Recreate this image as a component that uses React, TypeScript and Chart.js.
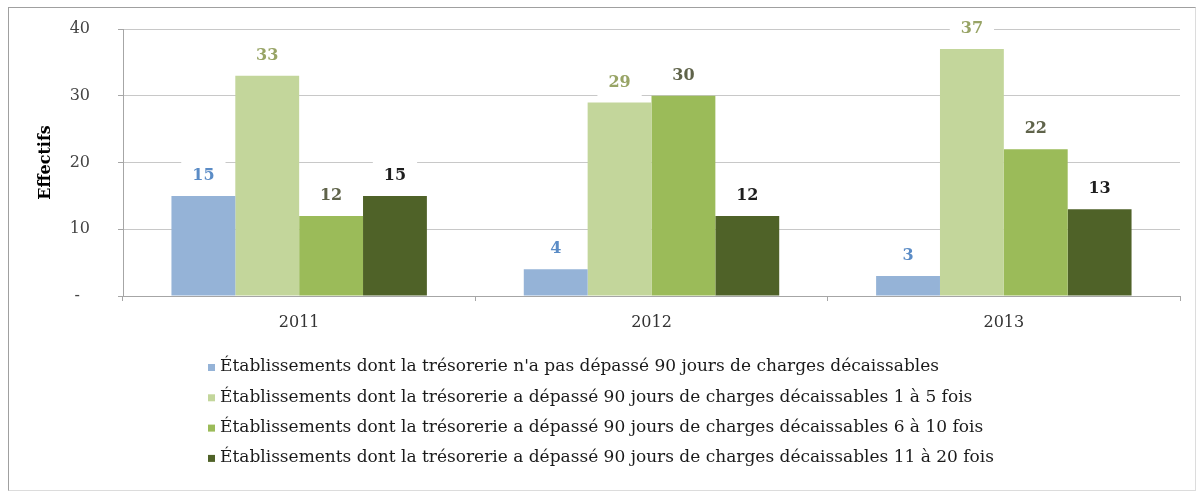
import React, { useEffect, useRef } from "react";
import { Chart, registerables } from "chart.js";

Chart.register(...registerables);

const categories = ["2011", "2012", "2013"];

const seriesLabels = [
  "Établissements dont la trésorerie n'a pas dépassé 90 jours de charges décaissables",
  "Établissements dont la trésorerie a dépassé 90 jours de charges décaissables 1 à 5 fois",
  "Établissements dont la trésorerie a dépassé 90 jours de charges décaissables 6 à 10 fois",
  "Établissements dont la trésorerie a dépassé 90 jours de charges décaissables 11 à 20 fois",
];

const notExceeded = [15, 4, 3];
const exceeded1to5 = [33, 29, 37];
const exceeded6to10 = [12, 30, 22];
const exceeded11to20 = [15, 12, 13];

const seriesValues = [notExceeded, exceeded1to5, exceeded6to10, exceeded11to20];
const barColors = ["#95B3D7", "#C3D69B", "#9BBB59", "#4F6228"];
const labelColors = ["#5B8CC6", "#98A466", "#5F634A", "#1E1E1E"];

const yMin = 0;
const yMax = 40;
const yStep = 10;
const yTickLabels: Record<number, string> = { 0: "-  ", 10: "10", 20: "20", 30: "30", 40: "40" };

const FONT = '"DejaVu Serif", "Liberation Serif", serif';

const valueLabelPlugin = {
  id: "valueLabels",
  beforeDatasetsDraw(chart: any) {
    const ctx = chart.ctx;
    ctx.save();
    ctx.font = `bold 16px ${FONT}`;
    chart.data.datasets.forEach((ds: any, i: number) => {
      const meta = chart.getDatasetMeta(i);
      meta.data.forEach((bar: any, j: number) => {
        const text = String(ds.data[j]);
        const w = ctx.measureText(text).width;
        const cy = bar.y - 20;
        ctx.fillStyle = "#ffffff";
        ctx.fillRect(bar.x - w / 2 - 11, cy - 15, w + 22, 30);
      });
    });
    ctx.restore();
  },
  afterDatasetsDraw(chart: any) {
    const ctx = chart.ctx;
    ctx.save();
    ctx.font = `bold 16px ${FONT}`;
    ctx.textAlign = "center";
    ctx.textBaseline = "middle";
    chart.data.datasets.forEach((ds: any, i: number) => {
      const meta = chart.getDatasetMeta(i);
      meta.data.forEach((bar: any, j: number) => {
        ctx.fillStyle = labelColors[i];
        ctx.fillText(String(ds.data[j]), bar.x, bar.y - 20);
      });
    });
    ctx.restore();
  },
};

const listLegendPlugin = {
  id: "listLegend",
  afterDraw(chart: any) {
    const ctx = chart.ctx;
    ctx.save();
    ctx.font = `17px ${FONT}`;
    ctx.textBaseline = "middle";
    ctx.textAlign = "left";
    const boxX = 208;
    const textX = 220;
    const firstY = 367;
    const gap = 30.3;
    chart.data.datasets.forEach((ds: any, i: number) => {
      const y = firstY + i * gap;
      ctx.fillStyle = ds.backgroundColor;
      ctx.fillRect(boxX, y - 3, 7, 7);
      ctx.fillStyle = "#1a1a1a";
      ctx.fillText(ds.label, textX, y);
    });
    ctx.restore();
  },
};

export default function App() {
  const canvasRef = useRef<HTMLCanvasElement | null>(null);

  useEffect(() => {
    if (!canvasRef.current) return;
    const chart = new Chart(canvasRef.current, {
      type: "bar",
      data: {
        labels: categories,
        datasets: seriesValues.map((vals, i) => ({
          label: seriesLabels[i],
          data: vals,
          backgroundColor: barColors[i],
          borderWidth: 0,
          categoryPercentage: 0.725,
          barPercentage: 1,
        })),
      },
      options: {
        animation: false,
        responsive: false,
        maintainAspectRatio: false,
        layout: { padding: { left: 30, top: 29, right: 17, bottom: 150 } },
        plugins: {
          legend: { display: false },
          tooltip: { enabled: false },
        },
        scales: {
          x: {
            grid: {
              display: true,
              drawOnChartArea: false,
              drawTicks: true,
              tickLength: 5,
              color: "#A6A6A6",
              offset: true,
            },
            border: { color: "#A6A6A6" },
            ticks: { font: { family: FONT, size: 16 }, color: "#333333", padding: 12 },
            afterFit: (s: any) => {
              s.height = 48;
              s.paddingLeft = 0;
              s.paddingRight = 0;
            },
          },
          y: {
            min: yMin,
            max: yMax,
            ticks: {
              stepSize: yStep,
              padding: 28,
              font: { family: FONT, size: 16 },
              color: "#444444",
              callback: (v: any) => yTickLabels[Number(v)] ?? String(v),
            },
            grid: {
              color: (c: any) => (c.tick && c.tick.value === 0 ? "#A6A6A6" : "#C8C8C8"),
              tickLength: 5,
              tickColor: "#A6A6A6",
            },
            border: { color: "#A6A6A6" },
            title: {
              display: true,
              text: "Effectifs",
              font: { family: FONT, size: 16, weight: "bold" },
              color: "#000000",
              padding: { top: 6, bottom: 0 },
            },
            afterFit: (s: any) => {
              s.width = 93;
              s.paddingTop = 0;
              s.paddingBottom = 0;
            },
          },
        },
      },
      plugins: [valueLabelPlugin, listLegendPlugin],
    } as any);
    return () => chart.destroy();
  }, []);

  return (
    <div style={{ position: "fixed", left: 0, top: 0, width: 1197, height: 494, background: "#ffffff" }}>
      <canvas ref={canvasRef} width={1197} height={494} style={{ display: "block" }} />
      <div
        style={{
          position: "absolute",
          left: 8,
          top: 7,
          width: 1186,
          height: 482,
          borderTop: "1px solid #A0A0A0",
          borderLeft: "1px solid #A0A0A0",
          borderRight: "1px solid #DCDCDC",
          borderBottom: "1px solid #DCDCDC",
          pointerEvents: "none",
        }}
      />
    </div>
  );
}
